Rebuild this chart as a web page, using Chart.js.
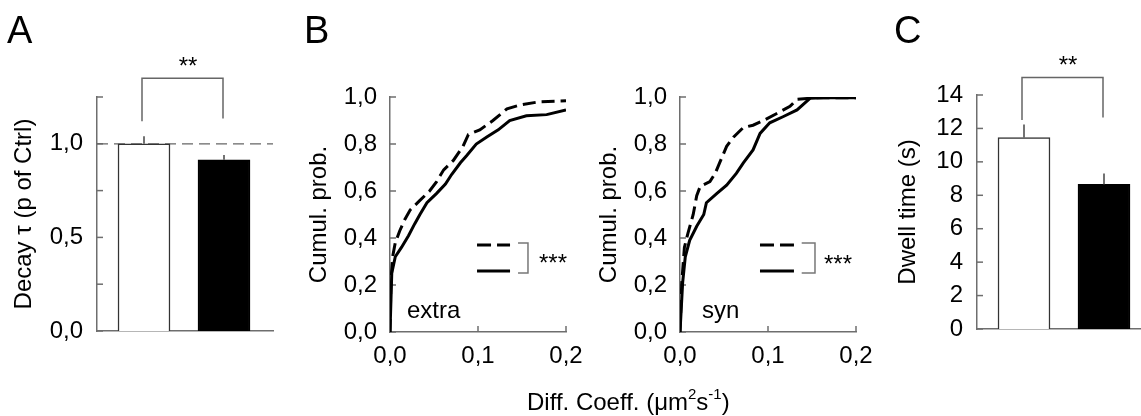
<!DOCTYPE html>
<html><head><meta charset="utf-8">
<script src="https://cdn.jsdelivr.net/npm/chart.js@4.4.1/dist/chart.umd.min.js"></script>
<style>
html,body{margin:0;padding:0;background:#fff;}
#wrap{position:relative;width:1141px;height:416px;overflow:hidden;font-family:"Liberation Sans",Arial,sans-serif;color:#000;background:#fff;}
#wrap canvas{position:absolute;left:0;top:0;}
.t{position:absolute;white-space:nowrap;line-height:1;font-size:24px;}
.panel{font-size:38px;}
.c{transform:translateX(-50%);}
sup{font-size:15px;vertical-align:11px;line-height:0;}
</style></head><body>
<div id="wrap">
<canvas id="cA" width="1141" height="416"></canvas>
<canvas id="cB1" width="1141" height="416"></canvas>
<canvas id="cB2" width="1141" height="416"></canvas>
<canvas id="cC" width="1141" height="416"></canvas>
<div class="t panel" style="left:7px;top:11px">A</div>
<div class="t panel" style="left:304px;top:11px">B</div>
<div class="t panel" style="left:894px;top:11px">C</div>
<div class="t c" style="left:188px;top:54px">**</div>
<div class="t c" style="left:1068px;top:53px">**</div>
<div class="t c" style="left:553px;top:251px">***</div>
<div class="t c" style="left:838px;top:252px">***</div>
<div class="t" style="left:407px;top:298px">extra</div>
<div class="t" style="left:702px;top:298px">syn</div>
<div class="t" style="left:527px;top:390px">Diff. Coeff. (μm<sup>2</sup>s<sup>-1</sup>)</div>
</div>
<script>
// ---- data ----
const barCategories = ['Ctrl', 'Treated'];
const decayMean = [1.00, 0.915];
const decaySem = [0.04, 0.025];
const dwellMean = [11.45, 8.65];
const dwellSem = [0.78, 0.65];

const extraCtrlX = [0, 0.001, 0.003, 0.006, 0.011, 0.017, 0.023, 0.034, 0.045, 0.053, 0.061, 0.072, 0.083, 0.089, 0.102, 0.117, 0.133, 0.148, 0.170, 0.2];
const extraCtrlY = [0, 0.21, 0.32, 0.38, 0.43, 0.48, 0.52, 0.56, 0.60, 0.64, 0.69, 0.73, 0.79, 0.84, 0.86, 0.90, 0.95, 0.966, 0.98, 0.984];
const extraTrtX = [0, 0.002, 0.006, 0.013, 0.021, 0.028, 0.034, 0.042, 0.053, 0.063, 0.070, 0.080, 0.087, 0.098, 0.110, 0.123, 0.136, 0.155, 0.178, 0.2];
const extraTrtY = [0, 0.25, 0.32, 0.36, 0.41, 0.46, 0.50, 0.55, 0.59, 0.63, 0.67, 0.72, 0.75, 0.80, 0.83, 0.86, 0.90, 0.92, 0.925, 0.945];
const synCtrlX = [0, 0.002, 0.005, 0.009, 0.015, 0.019, 0.023, 0.034, 0.040, 0.045, 0.053, 0.061, 0.072, 0.083, 0.095, 0.110, 0.125, 0.133, 0.155, 0.2];
const synCtrlY = [0, 0.21, 0.36, 0.42, 0.50, 0.58, 0.62, 0.64, 0.675, 0.72, 0.79, 0.83, 0.87, 0.88, 0.90, 0.93, 0.96, 0.99, 0.997, 0.997];
const synTrtX = [0, 0.003, 0.006, 0.011, 0.019, 0.027, 0.030, 0.042, 0.053, 0.064, 0.072, 0.083, 0.091, 0.102, 0.117, 0.133, 0.148, 0.163, 0.2];
const synTrtY = [0, 0.21, 0.32, 0.39, 0.45, 0.50, 0.55, 0.59, 0.625, 0.675, 0.72, 0.775, 0.845, 0.89, 0.916, 0.945, 0.995, 0.997, 0.997];

// ---- styles ----
const FONT = '"Liberation Sans", Arial, sans-serif';
const AXIS = '#6e6e6e';
const comma = v => Number(v).toFixed(1).replace('.', ',');
Chart.defaults.font.family = FONT;
Chart.defaults.color = '#000';

const innerTicks = {
  id: 'innerTicks',
  beforeDatasetsDraw(chart, args, o) {
    const {ctx, chartArea: a} = chart;
    const len = o.len || 6;
    ctx.save(); ctx.strokeStyle = AXIS; ctx.lineWidth = 1.5;
    const ys = chart.scales.y, xs = chart.scales.x;
    ys.ticks.forEach(t => { const p = ys.getPixelForValue(t.value); ctx.beginPath(); ctx.moveTo(a.left, p); ctx.lineTo(a.left + len, p); ctx.stroke(); });
    if (o.x) xs.ticks.forEach(t => { const p = xs.getPixelForValue(t.value); ctx.beginPath(); ctx.moveTo(p, a.bottom); ctx.lineTo(p, a.bottom - len); ctx.stroke(); });
    ctx.restore();
  }
};

const barMarks = {
  id: 'barMarks',
  beforeDatasetsDraw(chart, args, o) {
    if (o.refLine == null) return;
    const {ctx, chartArea: a} = chart; const ys = chart.scales.y;
    const p = ys.getPixelForValue(o.refLine);
    ctx.save(); ctx.strokeStyle = '#666'; ctx.lineWidth = 1.2; ctx.setLineDash([11, 6]);
    ctx.beginPath(); ctx.moveTo(a.left, p); ctx.lineTo(a.right, p); ctx.stroke(); ctx.restore();
  },
  afterDatasetsDraw(chart, args, o) {
    const {ctx} = chart; const ys = chart.scales.y;
    const meta = chart.getDatasetMeta(0);
    ctx.save(); ctx.lineWidth = 1.5; ctx.strokeStyle = '#444';
    meta.data.forEach((bar, i) => {
      ctx.beginPath();
      ctx.moveTo(bar.x, ys.getPixelForValue(o.mean[i]));
      ctx.lineTo(bar.x, ys.getPixelForValue(o.mean[i] + o.sem[i]));
      ctx.stroke();
    });
    const x0 = meta.data[0].x - 2, x1 = meta.data[1].x - 1;
    const yt = ys.getPixelForValue(o.bracket.top);
    ctx.strokeStyle = '#666';
    ctx.beginPath();
    ctx.moveTo(x0, ys.getPixelForValue(o.bracket.legs[0])); ctx.lineTo(x0, yt);
    ctx.lineTo(x1, yt); ctx.lineTo(x1, ys.getPixelForValue(o.bracket.legs[1]));
    ctx.stroke();
    ctx.restore();
  }
};

const cdfLegend = {
  id: 'cdfLegend',
  afterDatasetsDraw(chart, args, o) {
    const {ctx} = chart; const xs = chart.scales.x, ys = chart.scales.y;
    const X = v => xs.getPixelForValue(v), Y = v => ys.getPixelForValue(v);
    ctx.save();
    ctx.strokeStyle = '#000'; ctx.lineWidth = 3;
    ctx.setLineDash([14, 6]);
    ctx.beginPath(); ctx.moveTo(X(o.x0), Y(o.yDash)); ctx.lineTo(X(o.x1), Y(o.yDash)); ctx.stroke();
    ctx.setLineDash([]);
    ctx.beginPath(); ctx.moveTo(X(o.x0), Y(o.ySolid)); ctx.lineTo(X(o.x1), Y(o.ySolid)); ctx.stroke();
    ctx.strokeStyle = '#777'; ctx.lineWidth = 1.5;
    ctx.beginPath();
    ctx.moveTo(X(o.b0), Y(o.bTop)); ctx.lineTo(X(o.b1), Y(o.bTop));
    ctx.lineTo(X(o.b1), Y(o.bBot)); ctx.lineTo(X(o.b0), Y(o.bBot));
    ctx.stroke();
    ctx.restore();
  }
};

const fixW = w => s => { s.width = w; };
const fixH = h => s => { s.height = h; };

function barChart(id, pad, yW, xH, xMax, yMax, step, mean, sem, title, titlePad, labelFn, bracket, refLine) {
  return new Chart(document.getElementById(id), {
    type: 'bar',
    data: { datasets: [{
      label: title,
      data: barCategories.map((c, i) => ({ x: i + 1, y: mean[i] })),
      backgroundColor: ['#ffffff', '#000000'],
      borderColor: ['#333333', '#000000'],
      borderWidth: 1.5,
      barThickness: 52
    }]},
    options: {
      responsive: false, animation: false, devicePixelRatio: 1, events: [],
      layout: { padding: pad },
      plugins: { legend: { display: false }, tooltip: { enabled: false },
        innerTicks: { len: 6, x: false },
        barMarks: { mean, sem, bracket, refLine } },
      scales: {
        x: { type: 'linear', offset: false, min: 0.4125, max: xMax,
          grid: { display: false, drawTicks: false }, ticks: { display: false },
          border: { display: true, color: AXIS, width: 1.5 }, afterFit: fixH(xH) },
        y: { min: 0, max: yMax,
          grid: { display: false, drawTicks: false },
          border: { display: true, color: AXIS, width: 1.5 },
          ticks: { stepSize: step, padding: 14, font: { size: 24, family: FONT }, color: '#000', callback: labelFn },
          title: { display: true, text: title, font: { size: 24, family: FONT }, color: '#000', padding: { top: titlePad, bottom: 0 } },
          afterFit: fixW(yW) }
      }
    },
    plugins: [innerTicks, barMarks]
  });
}

function cdfChart(id, pad, xs1, ys1, xs2, ys2, leg) {
  const pts = (xa, ya) => xa.map((x, i) => ({ x, y: ya[i] }));
  return new Chart(document.getElementById(id), {
    type: 'line',
    data: { datasets: [
      { label: 'Ctrl', data: pts(xs1, ys1), borderColor: '#000', borderWidth: 3, borderDash: [13, 6], pointRadius: 0, tension: 0, fill: false },
      { label: 'Treated', data: pts(xs2, ys2), borderColor: '#000', borderWidth: 3, pointRadius: 0, tension: 0, fill: false }
    ]},
    options: {
      responsive: false, animation: false, devicePixelRatio: 1, events: [],
      layout: { padding: pad },
      plugins: { legend: { display: false }, tooltip: { enabled: false }, innerTicks: { len: 6, x: true }, cdfLegend: leg },
      scales: {
        x: { type: 'linear', min: 0, max: 0.2,
          grid: { display: false, drawTicks: false },
          border: { display: true, color: AXIS, width: 1.5 },
          ticks: { stepSize: 0.1, padding: 10, maxRotation: 0, font: { size: 24, family: FONT }, color: '#000', callback: comma },
          afterFit: fixH(84) },
        y: { min: 0, max: 1,
          grid: { display: false, drawTicks: false },
          border: { display: true, color: AXIS, width: 1.5 },
          ticks: { stepSize: 0.2, padding: 13, font: { size: 24, family: FONT }, color: '#000', callback: comma },
          title: { display: true, text: 'Cumul. prob.', font: { size: 24, family: FONT }, color: '#000', padding: { top: 15, bottom: 0 } },
          afterFit: fixW(100) }
      }
    },
    plugins: [innerTicks, cdfLegend]
  });
}

const decayLabel = v => (Math.abs(v * 2 - Math.round(v * 2)) < 1e-6 && v <= 1.0001) ? comma(v) : '';
const dwellLabel = v => (Math.round(v) % 2 === 0) ? String(Math.round(v)) : '';

barChart('cA', { left: 0, top: 97, right: 868, bottom: 0 }, 97, 85, 2.6125, 1.25, 0.25,
  decayMean, decaySem, 'Decay \u03c4 (p of Ctrl)', 10, decayLabel,
  { top: 1.35, legs: [1.12, 1.135] }, 1.0);

cdfChart('cB1', { left: 290, top: 97, right: 575, bottom: 0 }, extraCtrlX, extraCtrlY, extraTrtX, extraTrtY,
  { x0: 0.0989, x1: 0.1364, yDash: 0.37, ySolid: 0.26, b0: 0.1455, b1: 0.1568, bTop: 0.379, bBot: 0.251 });

cdfChart('cB2', { left: 580, top: 97, right: 285, bottom: 0 }, synCtrlX, synCtrlY, synTrtX, synTrtY,
  { x0: 0.0909, x1: 0.1295, yDash: 0.37, ySolid: 0.26, b0: 0.1383, b1: 0.1534, bTop: 0.379, bBot: 0.251 });

barChart('cC', { left: 880, top: 95, right: 0, bottom: 0 }, 97, 87, 2.4625, 14, 1,
  dwellMean, dwellSem, 'Dwell time (s)', 14, dwellLabel,
  { top: 15.04, legs: [12.5, 12.65] }, null);
</script>
</body></html>
